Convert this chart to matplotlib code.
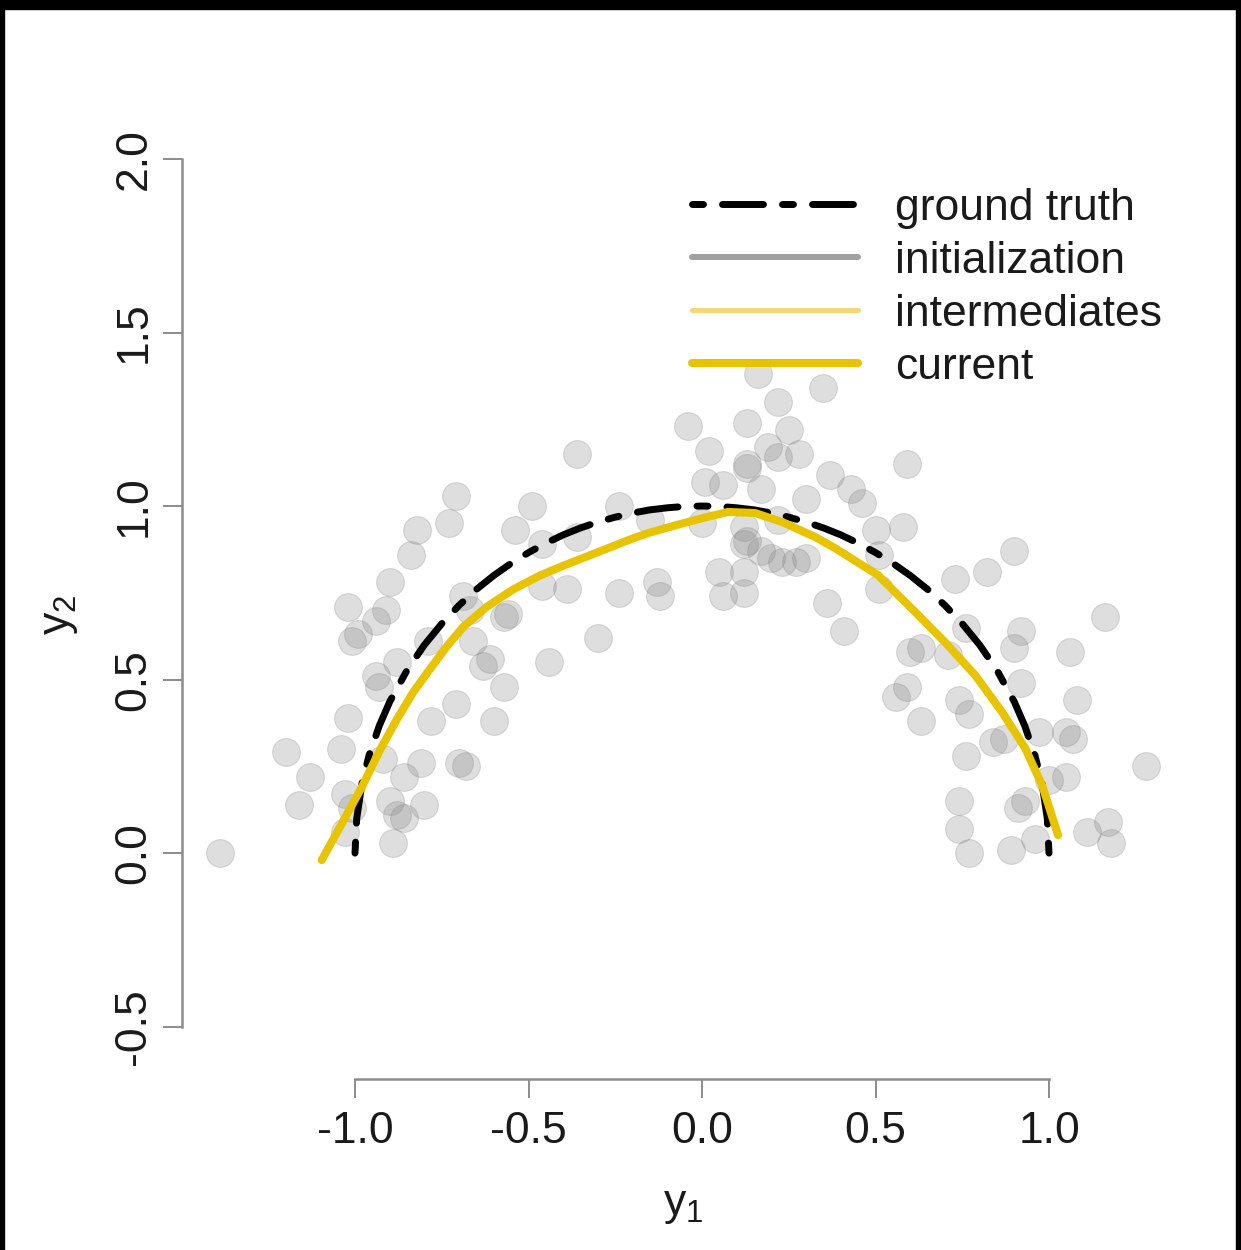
import matplotlib
matplotlib.use("Agg")
import matplotlib.pyplot as plt
from matplotlib.lines import Line2D
from matplotlib.patches import Rectangle

plt.rcParams["font.family"] = ["Liberation Sans", "DejaVu Sans"]
plt.rcParams["mathtext.fontset"] = "custom"
plt.rcParams["mathtext.rm"] = "Liberation Sans"
plt.rcParams["mathtext.it"] = "Liberation Sans:italic"
plt.rcParams["axes.unicode_minus"] = False
plt.rcParams["lines.scale_dashes"] = False

# observed samples (y1, y2)
obs_y1 = [-1.39, -1.20, -1.13, -1.16, -1.04, -1.02, -1.03, -1.01, -1.03, -0.94,
          -0.93, -0.88, -1.01, -0.99, -0.94, -0.91, -1.02, -0.90, -0.84, -0.82,
          -0.73, -0.71, -0.79, -0.92, -0.90, -0.88, -0.86, -0.89, -0.86, -0.81,
          -0.80, -0.71, -0.78, -0.60, -0.70, -0.68, -0.63, -0.61, -0.57, -0.66,
          -0.57, -0.69, -0.67, -0.56, -0.46, -0.39, -0.24, -0.30, -0.44, -0.49,
          -0.54, -0.46, -0.36, -0.36, -0.24, -0.15, -0.13, -0.12,
          -0.04, 0.02, 0.13, 0.16, 0.22, 0.25, 0.35, 0.28, 0.19, 0.22,
          0.13, 0.13, 0.01, 0.06, 0.17, 0.30, 0.37, 0.00, 0.12, 0.13,
          0.12, 0.17, 0.20, 0.23, 0.27, 0.30, 0.22, 0.05, 0.12, 0.06,
          0.12, 0.36,
          0.59, 0.43, 0.46, 0.50, 0.58, 0.51, 0.51, 0.73, 0.82, 0.90,
          1.16, 0.41, 0.60, 0.63, 0.71, 0.76, 0.92, 0.90, 1.06, 0.59,
          0.56, 0.63, 0.74, 0.77, 0.92, 1.08, 0.97, 1.05, 1.07, 0.84,
          0.87, 0.76, 1.28, 1.05, 1.00, 0.74, 0.91, 0.93, 0.74, 0.77,
          0.89, 0.96, 1.11, 1.17, 1.18]
obs_y2 = [0.00, 0.29, 0.22, 0.14, 0.30, 0.39, 0.17, 0.13, 0.06, 0.51,
          0.48, 0.55, 0.61, 0.63, 0.67, 0.70, 0.71, 0.78, 0.86, 0.93,
          0.95, 1.03, 0.61, 0.27, 0.15, 0.11, 0.10, 0.03, 0.22, 0.26,
          0.14, 0.43, 0.38, 0.38, 0.26, 0.25, 0.54, 0.56, 0.48, 0.61,
          0.68, 0.74, 0.70, 0.69, 0.77, 0.76, 0.75, 0.62, 0.55, 1.00,
          0.93, 0.89, 0.91, 1.15, 1.00, 0.96, 0.78, 0.74,
          1.23, 1.16, 1.24, 1.38, 1.30, 1.22, 1.34, 1.15, 1.17, 1.14,
          1.12, 1.11, 1.07, 1.06, 1.05, 1.02, 1.09, 0.95, 0.94, 0.90,
          0.89, 0.87, 0.85, 0.84, 0.84, 0.85, 0.96, 0.81, 0.81, 0.74,
          0.75, 0.72,
          1.12, 1.05, 1.01, 0.93, 0.94, 0.86, 0.76, 0.79, 0.81, 0.87,
          0.68, 0.64, 0.58, 0.59, 0.57, 0.65, 0.64, 0.59, 0.58, 0.48,
          0.45, 0.38, 0.44, 0.40, 0.49, 0.44, 0.35, 0.35, 0.33, 0.32,
          0.33, 0.28, 0.25, 0.22, 0.21, 0.15, 0.13, 0.15, 0.07, 0.00,
          0.01, 0.04, 0.06, 0.09, 0.03]

# ground-truth curve, read at y1 positions
truth_y1 = [-1.000, -0.995, -0.980, -0.960, -0.930, -0.900, -0.850, -0.800,
            -0.750, -0.700, -0.650, -0.600, -0.550, -0.500, -0.450, -0.400,
            -0.350, -0.300, -0.250, -0.200, -0.150, -0.100, -0.050, 0.000,
            0.050, 0.100, 0.150, 0.200, 0.250, 0.300, 0.350, 0.400,
            0.450, 0.500, 0.550, 0.600, 0.650, 0.700, 0.750, 0.800,
            0.850, 0.900, 0.930, 0.960, 0.980, 0.995, 1.000]
truth_y2 = [0.000, 0.100, 0.200, 0.280, 0.367, 0.436, 0.527, 0.600,
            0.661, 0.714, 0.760, 0.800, 0.835, 0.866, 0.893, 0.917,
            0.937, 0.954, 0.968, 0.980, 0.989, 0.995, 0.999, 1.000,
            0.999, 0.995, 0.989, 0.980, 0.968, 0.954, 0.937, 0.917,
            0.893, 0.866, 0.835, 0.800, 0.760, 0.714, 0.661, 0.600,
            0.527, 0.436, 0.367, 0.280, 0.200, 0.100, 0.000]

# current fitted curve
curr_y1 = [-1.096, -1.043, -0.981, -0.928, -0.879, -0.832, -0.793, -0.736,
           -0.688, -0.620, -0.544, -0.467, -0.400, -0.303, -0.212, -0.156,
           -0.078, 0.000, 0.075, 0.153, 0.231, 0.326, 0.383, 0.507,
           0.620, 0.700, 0.787, 0.865, 0.931, 0.980, 1.003, 1.026]
curr_y2 = [-0.020, 0.076, 0.189, 0.297, 0.386, 0.464, 0.518, 0.595,
           0.652, 0.710, 0.760, 0.800, 0.828, 0.866, 0.902, 0.922,
           0.944, 0.965, 0.983, 0.980, 0.954, 0.911, 0.879, 0.801,
           0.689, 0.608, 0.513, 0.406, 0.303, 0.196, 0.124, 0.052]

x_ticks = [-1.0, -0.5, 0.0, 0.5, 1.0]
y_ticks = [-0.5, 0.0, 0.5, 1.0, 1.5, 2.0]
legend_labels = ["ground truth", "initialization", "intermediates", "current"]

gold = "#E8C300"
gold_light = "#F3D87A"
init_grey = "#A0A0A0"
axis_grey = "#8C8C8C"
gt_dashes = (7.9, 13.7, 29.5, 13.7)

W, H = 1241, 1250
fig = plt.figure(figsize=(W / 100, H / 100), dpi=100)
ax = fig.add_axes([181.5 / W, 1 - 1078.7 / H, 1041 / W, (1078.7 - 124.3) / H])
ax.set_xlim(-1.5, 1.5)
ax.set_ylim(-0.65, 2.1)

ax.scatter(obs_y1, obs_y2, s=400, color=(0.5, 0.5, 0.5), alpha=0.26,
           linewidths=0.8, edgecolors=(0.5, 0.5, 0.5), zorder=1)

ax.plot(truth_y1, truth_y2, color="black", lw=5.0, dashes=gt_dashes,
        dash_capstyle="round", dash_joinstyle="round", zorder=3)
ax.plot(curr_y1, curr_y2, color=gold, lw=5.8, solid_capstyle="round",
        solid_joinstyle="round", zorder=4)

for side in ("top", "right"):
    ax.spines[side].set_visible(False)
ax.spines["left"].set_bounds(-0.5, 2.0)
ax.spines["bottom"].set_bounds(-1.0, 1.0)
for side in ("left", "bottom"):
    ax.spines[side].set_color(axis_grey)
    ax.spines[side].set_linewidth(1.8)

ax.set_xticks(x_ticks)
ax.set_xticklabels([f"{v:.1f}" for v in x_ticks])
ax.set_yticks(y_ticks)
ax.set_yticklabels([f"{v:.1f}" for v in y_ticks], rotation=90, va="center")
ax.tick_params(axis="both", length=13.5, width=1.4, color=axis_grey,
               labelsize=32, labelcolor="#1a1a1a")
ax.tick_params(axis="x", pad=10)
ax.tick_params(axis="y", pad=6)

ax.set_xlabel(r"$\mathregular{y_1}$", fontsize=32, color="#1a1a1a")
ax.set_ylabel(r"$\mathregular{y_2}$", fontsize=32, color="#1a1a1a")
ax.xaxis.set_label_coords(683 / W, 1 - 1205 / H, transform=fig.transFigure)
ax.xaxis.label.set_verticalalignment("center")
ax.yaxis.set_label_coords(60 / W, 1 - 615 / H, transform=fig.transFigure)
ax.yaxis.label.set_verticalalignment("center")

handles = [
    Line2D([], [], color="black", lw=5.0, dashes=gt_dashes, dash_capstyle="round"),
    Line2D([], [], color=init_grey, lw=4.3, solid_capstyle="round"),
    Line2D([], [], color=gold_light, lw=3.6, solid_capstyle="round"),
    Line2D([], [], color=gold, lw=5.8, solid_capstyle="round"),
]
ax.legend(handles, legend_labels, loc="upper left",
          bbox_to_anchor=(692 / W, 1 - 188 / H), bbox_transform=fig.transFigure,
          frameon=False, fontsize=32, handlelength=3.74, handletextpad=0.83,
          labelspacing=0.27, borderpad=0, borderaxespad=0,
          labelcolor="#1a1a1a")

# dark frame edges around the canvas
fig.add_artist(Rectangle((0, 1 - 9 / H), 1, 9 / H, transform=fig.transFigure,
                         color="black", zorder=10))
fig.add_artist(Rectangle((0, 0), 4 / W, 1, transform=fig.transFigure,
                         color="black", zorder=10))
fig.add_artist(Rectangle((1 - 5 / W, 0), 5 / W, 1, transform=fig.transFigure,
                         color="black", zorder=10))

fig.savefig("out.png", dpi=100)
